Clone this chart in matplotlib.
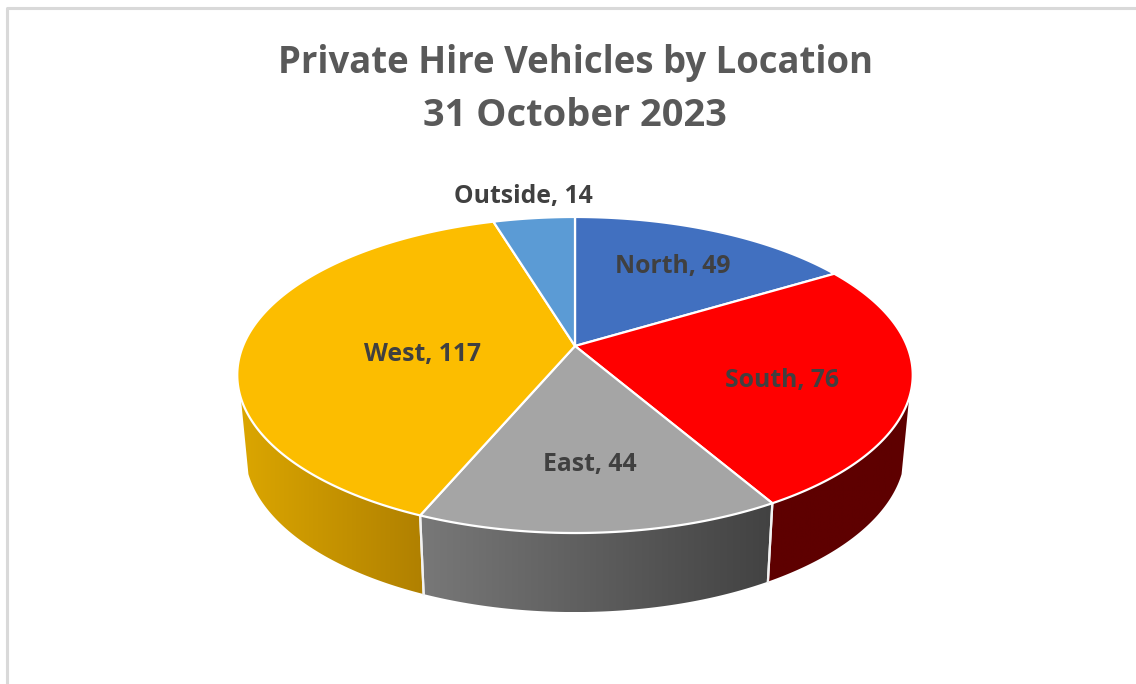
import numpy as np
import matplotlib
matplotlib.use("Agg")
import matplotlib.pyplot as plt
from matplotlib.patches import Polygon

# data, clockwise from 12 o'clock
locations = ["North", "South", "East", "West", "Outside"]
vehicles = [49, 76, 44, 117, 14]
top_colors = ["#4170C0", "#FF0000", "#A5A5A5", "#FCBD00", "#5B9BD5"]
# left and right colour of the side wall gradient
side_left = {"South": "#5E0000", "East": "#787878", "West": "#DBA600"}
side_right = {"South": "#5E0000", "East": "#424242", "West": "#B08000"}

title_lines = ["Private Hire Vehicles by Location", "31 October 2023"]
# where each label sits, in pixels
label_pos = {"North": (673, 267), "South": (782, 381), "East": (590, 464),
             "West": (423, 355), "Outside": (523, 196)}

plt.rcParams['font.family'] = ['Open Sans', 'DejaVu Sans']

fig = plt.figure(figsize=(11.36, 6.84), dpi=100)
ax = fig.add_axes([0, 0, 1, 1])
ax.set_xlim(0, 1136)
ax.set_ylim(684, 0)
ax.axis("off")

# =======================
# perspective of the disc
# =======================
cx = 575
k = 0.1835


def project(t_deg, width, height, y0):
    t = np.radians(t_deg)
    u, v = np.sin(t), np.cos(t)
    d = 1 + k * v
    return np.column_stack([cx + width * u / d, y0 - height * v / d])


def top_edge(t_deg):
    return project(t_deg, 332, 152.7, 346)


def bottom_edge(t_deg):
    return project(t_deg, 324.5, 156, 421)


angles = np.cumsum([0] + vehicles) / sum(vehicles) * 360
side_from, side_to = 108.7, 251.3

# =======================
# side walls
# =======================
for name, start, end in zip(locations, angles[:-1], angles[1:]):
    a, b = max(start, side_from), min(end, side_to)
    if a >= b:
        continue
    t = np.linspace(a, b, 200)
    pts = np.vstack([top_edge(t), bottom_edge(t[::-1])])
    wall = Polygon(pts, closed=True, fc="none", ec="none", transform=ax.transData)
    ax.add_patch(wall)
    c1 = np.array(matplotlib.colors.to_rgb(side_left[name]))
    c2 = np.array(matplotlib.colors.to_rgb(side_right[name]))
    ramp = np.linspace(0, 1, 256)[None, :, None]
    grad = c1[None, None, :] * (1 - ramp) + c2[None, None, :] * ramp
    im = ax.imshow(grad, extent=[pts[:, 0].min(), pts[:, 0].max(), pts[:, 1].max(), pts[:, 1].min()],
                   aspect="auto", zorder=1)
    im.set_clip_path(wall)
    ax.set_xlim(0, 1136)
    ax.set_ylim(684, 0)
    # seams between the walls
    for seam in (a, b):
        if seam not in (side_from, side_to):
            p = np.vstack([top_edge(np.array([seam])), bottom_edge(np.array([seam]))])
            ax.plot(p[:, 0], p[:, 1], color="#F2F2F2", lw=1.6, zorder=2)

# =======================
# top of the pie
# =======================
for name, color, start, end in zip(locations, top_colors, angles[:-1], angles[1:]):
    t = np.linspace(start, end, 200)
    pts = np.vstack([[cx, 346], top_edge(t)])
    ax.add_patch(Polygon(pts, closed=True, fc=color, ec="white", lw=1.6, joinstyle="round", zorder=3))

for name, val in zip(locations, vehicles):
    x, y = label_pos[name]
    ax.text(x, y, f"{name}, {val}", ha="center", va="center", fontsize=17.8,
            fontweight="bold", color="#404040", zorder=5)

# second line runs a bit wider in the reference than this font gives at one size
for line, y, size in zip(title_lines, [63, 116], [26.3, 27.4]):
    ax.text(cx, y, line, ha="center", va="center", fontsize=size, fontweight="bold", color="#595959")

# chart frame, cut by the edges of the screenshot
ax.plot([6.5, 6.5, 1136], [684, 7.5, 7.5], color="#D9D9D9", lw=2.2, zorder=6)

fig.savefig("out.png", dpi=100)
